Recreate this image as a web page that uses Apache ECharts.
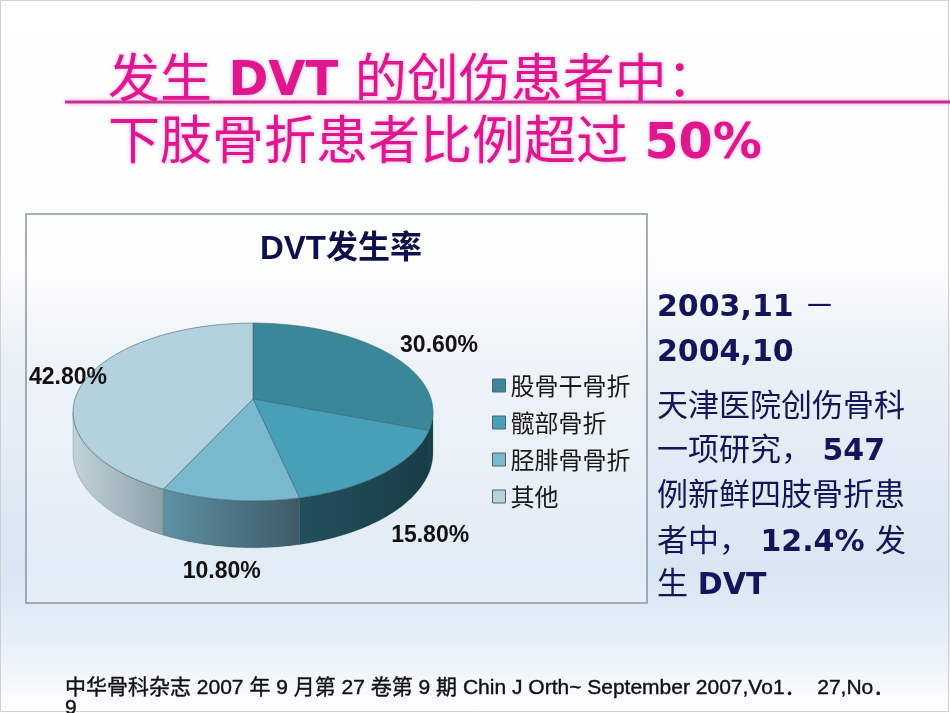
<!DOCTYPE html>
<html>
<head>
    <meta charset="UTF-8">
    <title>DVT发生率</title>
    <script src="https://cdn.jsdelivr.net/npm/echarts@6/dist/echarts.min.js"></script>
</head>
<style type="text/css">
    html, body {
        width: 100%;
        height: 100%;
        margin: 0;
        padding: 0;
        overflow: hidden;
    }
    #main {
        width: 950px;
        height: 713px;
    }
</style>
<body>
    <div id="main"></div>
</body>
<script>
    // data
    var categories = ['股骨干骨折', '髋部骨折', '胫腓骨骨折', '其他'];
    var values = [30.6, 15.8, 10.8, 42.8];

    // slice colours: top face, wall gradient (left -> right)
    var topColors = ['#3A8799', '#47A0B8', '#7AB9CD', '#B3D2DE'];
    var wallColors = [['#1D4753', '#183A44'], ['#21505C', '#1A3D47'], ['#5D92A3', '#3D5A65'], ['#C3D2D9', '#8CA0A9']];

    // latin font first so mixed runs share one baseline, CJK falls back
    var MIX = '"DejaVu Sans", "Noto Sans CJK SC", sans-serif';
    var MIX2 = '"Liberation Sans", "Noto Sans CJK SC", sans-serif';
    var NAVY = '#14145A';
    var PINK = '#E0168C';

    // pseudo 3d pie, a circle seen in perspective
    var pie = { cx: 253, cy: 399, r: 178, ry: 87, k: 0.146, h: 40 };

    function project(theta, f, down) {
        var u = Math.sin(theta), v = Math.cos(theta);
        var s = 1 / (1 + pie.k * v);
        return [pie.cx + pie.r * f * u * s, pie.cy - pie.ry * f * v * s + (down ? pie.h * s : 0)];
    }

    var total = values.reduce(function (a, b) { return a + b; }, 0);
    var starts = [];
    var acc = 0;
    values.forEach(function (v) {
        starts.push(acc / total * Math.PI * 2);
        acc += v;
    });
    // visible part of the wall (clockwise from 12 o'clock)
    var edgeA = Math.acos(-pie.k);
    var edgeB = Math.PI * 2 - edgeA;

    function renderSlice(params, api) {
        var i = params.seriesIndex;
        var a0 = starts[i];
        var a1 = a0 + api.value(0) / total * Math.PI * 2;
        var kids = [];
        var t;

        var w0 = Math.max(a0, edgeA), w1 = Math.min(a1, edgeB);
        if (w1 > w0) {
            var wall = [];
            var n = 60;
            for (t = 0; t <= n; t++) wall.push(project(w0 + (w1 - w0) * t / n, 1, false));
            for (t = n; t >= 0; t--) wall.push(project(w0 + (w1 - w0) * t / n, 1, true));
            kids.push({
                type: 'polygon',
                shape: { points: wall },
                style: {
                    fill: new echarts.graphic.LinearGradient(0, 0, 1, 0, [
                        { offset: 0, color: wallColors[i][0] },
                        { offset: 1, color: wallColors[i][1] }
                    ]),
                    stroke: 'rgba(25,55,65,0.4)',
                    lineWidth: 0.6
                }
            });
        }

        var top = [[pie.cx, pie.cy]];
        var m = Math.max(8, Math.ceil((a1 - a0) / 0.02));
        for (t = 0; t <= m; t++) top.push(project(a0 + (a1 - a0) * t / m, 1, false));
        kids.push({
            type: 'polygon',
            shape: { points: top },
            style: { fill: topColors[i], stroke: 'rgba(55,100,115,0.75)', lineWidth: 0.8 }
        });

        var mid = (a0 + a1) / 2;
        var u = Math.sin(mid), v = Math.cos(mid);
        var p = project(mid, 1.15, v < 0);
        kids.push({
            type: 'text',
            style: {
                text: api.value(0).toFixed(2) + '%',
                x: Math.max(p[0] + u * 38, 68),
                y: p[1] + (v < 0 ? -v * 10 : 0),
                align: 'center',
                verticalAlign: 'middle',
                font: 'bold 23px "Liberation Sans Narrow", "Arial Narrow", sans-serif',
                fill: '#111'
            }
        });
        return { type: 'group', children: kids };
    }

    var myChart = echarts.init(document.getElementById('main'));

    var option = {
        animation: false,
        title: {
            text: '{a|DVT}{b|发生率}',
            left: 336,
            top: 228,
            textAlign: 'center',
            textStyle: {
                rich: {
                    a: { fontFamily: MIX2, fontWeight: 'bold', fontSize: 33, color: '#0F0F4D' },
                    b: { fontFamily: MIX2, fontSize: 32, color: '#0F0F4D' }
                }
            }
        },
        legend: {
            data: categories,
            orient: 'vertical',
            left: 487,
            top: 368,
            itemWidth: 13,
            itemHeight: 13,
            itemGap: 12,
            icon: 'rect',
            itemStyle: { borderColor: '#50626A', borderWidth: 1 },
            textStyle: { fontFamily: '"Noto Sans CJK SC", sans-serif', fontSize: 24, lineHeight: 25, color: '#1A1A1A' }
        },
        graphic: [
            {
                type: 'rect', z: -10, silent: true,
                shape: { x: 0, y: 0, width: 950, height: 713 },
                style: {
                    fill: new echarts.graphic.LinearGradient(0, 0, 0, 1, [
                        { offset: 0, color: '#FFFFFF' },
                        { offset: 0.36, color: '#FDFEFE' },
                        { offset: 0.5, color: '#E9F0F7' },
                        { offset: 0.65, color: '#E2EBF5' },
                        { offset: 0.8, color: '#D8E6F3' },
                        { offset: 0.9, color: '#E6EFF8' },
                        { offset: 1, color: '#FFFFFF' }
                    ])
                }
            },
            {
                type: 'rect', z: -9, silent: true,
                shape: { x: 0.5, y: 0.5, width: 948, height: 711 },
                style: { fill: 'none', stroke: '#D0D0D0', lineWidth: 1 }
            },
            // chart frame
            {
                type: 'rect', z: -8, silent: true,
                shape: { x: 26, y: 214, width: 621, height: 389 },
                style: { fill: 'rgba(255,255,255,0.25)', stroke: '#8797A2', lineWidth: 1.5 }
            },
            // heading
            {
                type: 'line', z: 1, silent: true,
                shape: { x1: 65, y1: 102, x2: 950, y2: 102 },
                style: { stroke: '#C2338E', lineWidth: 3, shadowColor: 'rgba(230,120,210,0.8)', shadowBlur: 4 }
            },
            {
                type: 'text', z: 2, silent: true,
                style: {
                    x: 108, y: 83, verticalAlign: 'middle',
                    text: '{c|发生 }{b|DVT}{c| 的创伤患者中：}',
                    textShadowColor: 'rgba(235,120,215,0.6)', textShadowBlur: 4,
                    rich: {
                        c: { fontFamily: MIX, fontSize: 52, fill: PINK },
                        b: { fontFamily: MIX, fontWeight: 'bold', fontSize: 48, fill: PINK }
                    }
                }
            },
            {
                type: 'text', z: 2, silent: true,
                style: {
                    x: 108, y: 145, verticalAlign: 'middle',
                    text: '{c|下肢骨折患者比例超过 }{b|50%}',
                    textShadowColor: 'rgba(235,120,215,0.6)', textShadowBlur: 4,
                    rich: {
                        c: { fontFamily: MIX, fontSize: 52, fill: PINK },
                        b: { fontFamily: MIX, fontWeight: 'bold', fontSize: 49, fill: PINK }
                    }
                }
            },
            // side note
            {
                type: 'group', silent: true,
                children: [
                    ['{n|2003,11 }{c|－}', 308],
                    ['{n|2004,10}', 353],
                    ['{c|天津医院创伤骨科}', 408],
                    ['{c|一项研究，}{n| 547}', 452],
                    ['{c|例新鲜四肢骨折患}', 497],
                    ['{c|者中，}{n| 12.4% }{c|发}', 543],
                    ['{c|生 }{n|DVT}', 586]
                ].map(function (line) {
                    return {
                        type: 'text',
                        style: {
                            x: 657, y: line[1], verticalAlign: 'middle',
                            text: line[0],
                            rich: {
                                n: { fontFamily: MIX, fontWeight: 'bold', fontSize: 30, fill: NAVY },
                                c: { fontFamily: MIX, fontSize: 31, fill: NAVY }
                            }
                        }
                    };
                })
            },
            // source
            {
                type: 'text', silent: true,
                style: {
                    x: 65, y: 688, verticalAlign: 'middle',
                    text: '中华骨科杂志 2007 年 9 月第 27 卷第 9 期 Chin J Orth~ September 2007,Vo1．  27,No．',
                    font: '21px "Liberation Sans", "Noto Sans CJK SC", sans-serif',
                    fill: '#111', stroke: '#111', lineWidth: 0.4
                }
            },
            {
                type: 'text', silent: true,
                style: {
                    x: 65, y: 708, verticalAlign: 'middle',
                    text: '9',
                    font: '21px "Liberation Sans", sans-serif',
                    fill: '#111', stroke: '#111', lineWidth: 0.4
                }
            }
        ],
        series: categories.map(function (name, i) {
            return {
                type: 'custom',
                name: name,
                coordinateSystem: 'none',
                silent: true,
                itemStyle: { color: topColors[i] },
                renderItem: renderSlice,
                data: [values[i]]
            };
        })
    };

    myChart.setOption(option);

    window.addEventListener('resize', function () {
        myChart.resize();
    });
</script>
</html>
